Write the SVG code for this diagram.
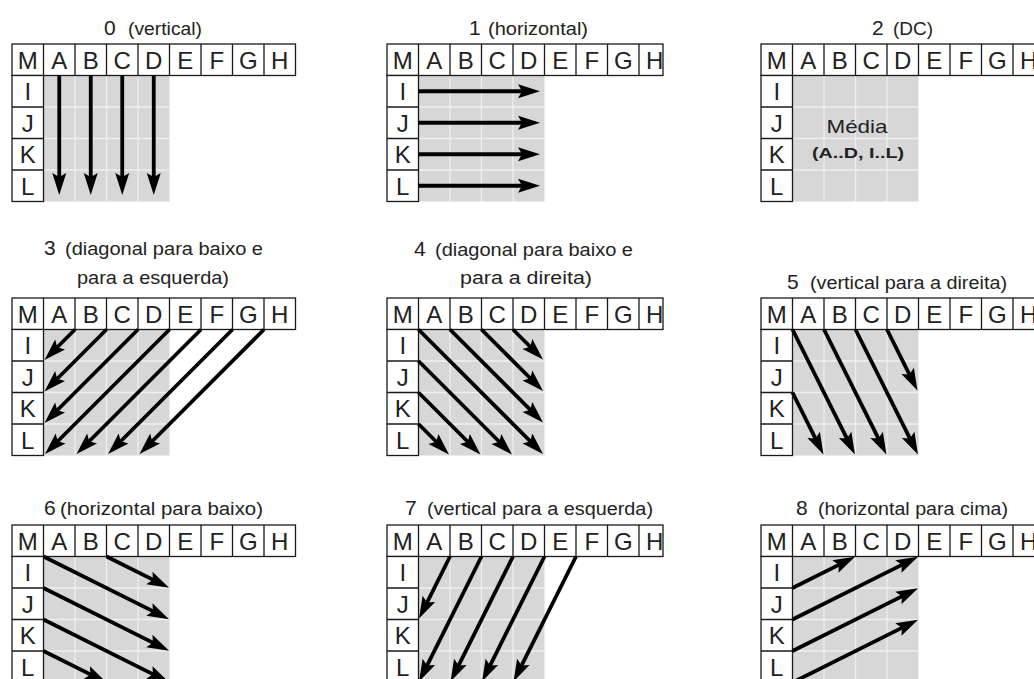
<svg xmlns="http://www.w3.org/2000/svg" width="1034" height="679" viewBox="0 0 1034 679">
<style>
.gray{fill:#d7d7d7;stroke:none}
.gl{stroke:#efefef;stroke-width:1.3;fill:none}
.cell{fill:#fff;stroke:#1a1a1a;stroke-width:1.3}
.ln{stroke:#1a1a1a;stroke-width:1.3;fill:none}
.lt{font-family:"Liberation Sans",Arial,sans-serif;font-size:24px;fill:#222;text-anchor:middle}
.dg{font-family:"Liberation Sans",Arial,sans-serif;font-size:21px;fill:#222}
.cp{font-family:"Liberation Sans",Arial,sans-serif;font-size:17.5px;fill:#222}
.arr{stroke:#000;stroke-width:3.8;fill:none;marker-end:url(#ah)}
</style>
<defs>
<marker id="ah" markerUnits="userSpaceOnUse" markerWidth="24" markerHeight="16" refX="10" refY="7" orient="auto" overflow="visible">
<path d="M0,0 L22,7 L0,14 L4,7 z" fill="#000"/>
</marker>
<clipPath id="clipMid"><rect x="-3" y="-3" width="279.5" height="200"/></clipPath>
<g id="grid">
<rect class="gray" x="31.5" y="31.5" width="126" height="126"/>
<path class="gl" d="M63 31.5V157.5M94.5 31.5V157.5M126 31.5V157.5M31.5 63H157.5M31.5 94.5H157.5M31.5 126H157.5"/>
<rect class="cell" x="0" y="0" width="283.5" height="31.5"/>
<rect class="cell" x="0" y="31.5" width="31.5" height="126"/>
<path class="ln" d="M31.5 0V31.5M63 0V31.5M94.5 0V31.5M126 0V31.5M157.5 0V31.5M189 0V31.5M220.5 0V31.5M252 0V31.5M0 63H31.5M0 94.5H31.5M0 126H31.5"/>
<text class="lt" x="15.75" y="24.5">M</text>
<text class="lt" x="47.25" y="24.5">A</text>
<text class="lt" x="78.75" y="24.5">B</text>
<text class="lt" x="110.25" y="24.5">C</text>
<text class="lt" x="141.75" y="24.5">D</text>
<text class="lt" x="173.25" y="24.5">E</text>
<text class="lt" x="204.75" y="24.5">F</text>
<text class="lt" x="236.25" y="24.5">G</text>
<text class="lt" x="267.75" y="24.5">H</text>
<text class="lt" x="15.75" y="56">I</text>
<text class="lt" x="15.75" y="87.5">J</text>
<text class="lt" x="15.75" y="119">K</text>
<text class="lt" x="15.75" y="150.5">L</text>
</g>
</defs>
<rect x="0" y="0" width="1034" height="679" fill="#fff"/>

<g id="panel0">
<use href="#grid" x="12" y="44"/>
<text class="dg" x="104" y="35">0</text>
<text class="cp" x="128" y="35" textLength="74" lengthAdjust="spacingAndGlyphs">(vertical)</text>
</g>

<g id="panel1">
<g transform="translate(387,44)" clip-path="url(#clipMid)"><use href="#grid"/></g>
<path class="ln" d="M663 44V75.5"/>
<text class="dg" x="469" y="35">1</text>
<text class="cp" x="488" y="35" textLength="100" lengthAdjust="spacingAndGlyphs">(horizontal)</text>
</g>

<g id="panel2">
<use href="#grid" x="761" y="44"/>
<text class="dg" x="872" y="35">2</text>
<text class="cp" x="893" y="35" textLength="40" lengthAdjust="spacingAndGlyphs">(DC)</text>
<text x="857" y="133" font-family="Liberation Sans, Arial, sans-serif" font-size="18.5" fill="#222" text-anchor="middle" textLength="61" lengthAdjust="spacingAndGlyphs">Média</text>
<text x="858" y="158" font-family="Liberation Sans, Arial, sans-serif" font-size="15" font-weight="bold" fill="#222" text-anchor="middle" textLength="92" lengthAdjust="spacingAndGlyphs">(A..D, I..L)</text>
</g>

<g id="panel3">
<use href="#grid" x="12" y="298"/>
<text class="dg" x="44" y="255">3</text>
<text class="cp" x="65" y="255" textLength="198" lengthAdjust="spacingAndGlyphs">(diagonal para baixo e</text>
<text class="cp" x="77" y="284" textLength="152" lengthAdjust="spacingAndGlyphs">para a esquerda)</text>
</g>

<g id="panel4">
<g transform="translate(387,298)" clip-path="url(#clipMid)"><use href="#grid"/></g>
<path class="ln" d="M663 298V329.5"/>
<text class="dg" x="414" y="256">4</text>
<text class="cp" x="435" y="256" textLength="198" lengthAdjust="spacingAndGlyphs">(diagonal para baixo e</text>
<text class="cp" x="460" y="284" textLength="132" lengthAdjust="spacingAndGlyphs">para a direita)</text>
</g>

<g id="panel5">
<use href="#grid" x="761" y="298"/>
<text class="dg" x="787" y="289">5</text>
<text class="cp" x="810" y="289" textLength="197" lengthAdjust="spacingAndGlyphs">(vertical para a direita)</text>
</g>

<g id="panel6">
<use href="#grid" x="12" y="525"/>
<text class="dg" x="44" y="515">6</text>
<text class="cp" x="60" y="515" textLength="203" lengthAdjust="spacingAndGlyphs">(horizontal para baixo)</text>
</g>

<g id="panel7">
<g transform="translate(387,525)" clip-path="url(#clipMid)"><use href="#grid"/></g>
<path class="ln" d="M663 525V556.5"/>
<text class="dg" x="405" y="515">7</text>
<text class="cp" x="427" y="515" textLength="226" lengthAdjust="spacingAndGlyphs">(vertical para a esquerda)</text>
</g>

<g id="panel8">
<use href="#grid" x="761" y="525"/>
<text class="dg" x="796" y="515">8</text>
<text class="cp" x="818" y="515" textLength="190" lengthAdjust="spacingAndGlyphs">(horizontal para cima)</text>
</g>

<g id="connectors">
<path class="arr" d="M59.25 75.5V183"/>
<path class="arr" d="M90.75 75.5V183"/>
<path class="arr" d="M122.25 75.5V183"/>
<path class="arr" d="M153.75 75.5V183"/>

<path class="arr" d="M418.5 91.25H528"/>
<path class="arr" d="M418.5 122.75H528"/>
<path class="arr" d="M418.5 154.25H528"/>
<path class="arr" d="M418.5 185.75H528"/>

<path class="arr" d="M75 329.5L53 351.5"/>
<path class="arr" d="M106.5 329.5L53 383"/>
<path class="arr" d="M138 329.5L53 414.5"/>
<path class="arr" d="M169.5 329.5L53.5 445.5"/>
<path class="arr" d="M201 329.5L85 445.5"/>
<path class="arr" d="M232.5 329.5L116.5 445.5"/>
<path class="arr" d="M264 329.5L148 445.5"/>

<path class="arr" d="M418.5 329.5L534.5 445.5"/>
<path class="arr" d="M450 329.5L534.5 414"/>
<path class="arr" d="M481.5 329.5L534.5 382.5"/>
<path class="arr" d="M513 329.5L534.5 351"/>
<path class="arr" d="M418.5 361L503.5 446"/>
<path class="arr" d="M418.5 392.5L472 446"/>
<path class="arr" d="M418.5 424L440.5 446"/>

<path class="arr" d="M792.5 329.5L849.6 443.8"/>
<path class="arr" d="M824 329.5L881.1 443.8"/>
<path class="arr" d="M855.5 329.5L912.6 443.8"/>
<path class="arr" d="M887 329.5L912.1 379.8"/>
<path class="arr" d="M792.5 392.5L818.1 443.8"/>

<path class="arr" d="M43.5 556.5L158.3 613.9"/>
<path class="arr" d="M106.5 556.5L158.3 582.4"/>
<path class="arr" d="M43.5 588L158.3 645.4"/>
<path class="arr" d="M43.5 619.5L158.3 676.9"/>
<path class="arr" d="M43.5 651L95.8 677.1"/>

<path class="arr" d="M450 556.5L424.4 607.8"/>
<path class="arr" d="M481.5 556.5L424.4 670.8"/>
<path class="arr" d="M513 556.5L455.9 670.8"/>
<path class="arr" d="M544.5 556.5L487.4 670.8"/>
<path class="arr" d="M576 556.5L518.9 670.8"/>

<path class="arr" d="M792.5 588L844.3 562.1"/>
<path class="arr" d="M792.5 619.5L907.3 562.1"/>
<path class="arr" d="M792.5 651L907.3 593.6"/>
<path class="arr" d="M792.5 682.5L907.3 625.1"/>
</g>
</svg>
